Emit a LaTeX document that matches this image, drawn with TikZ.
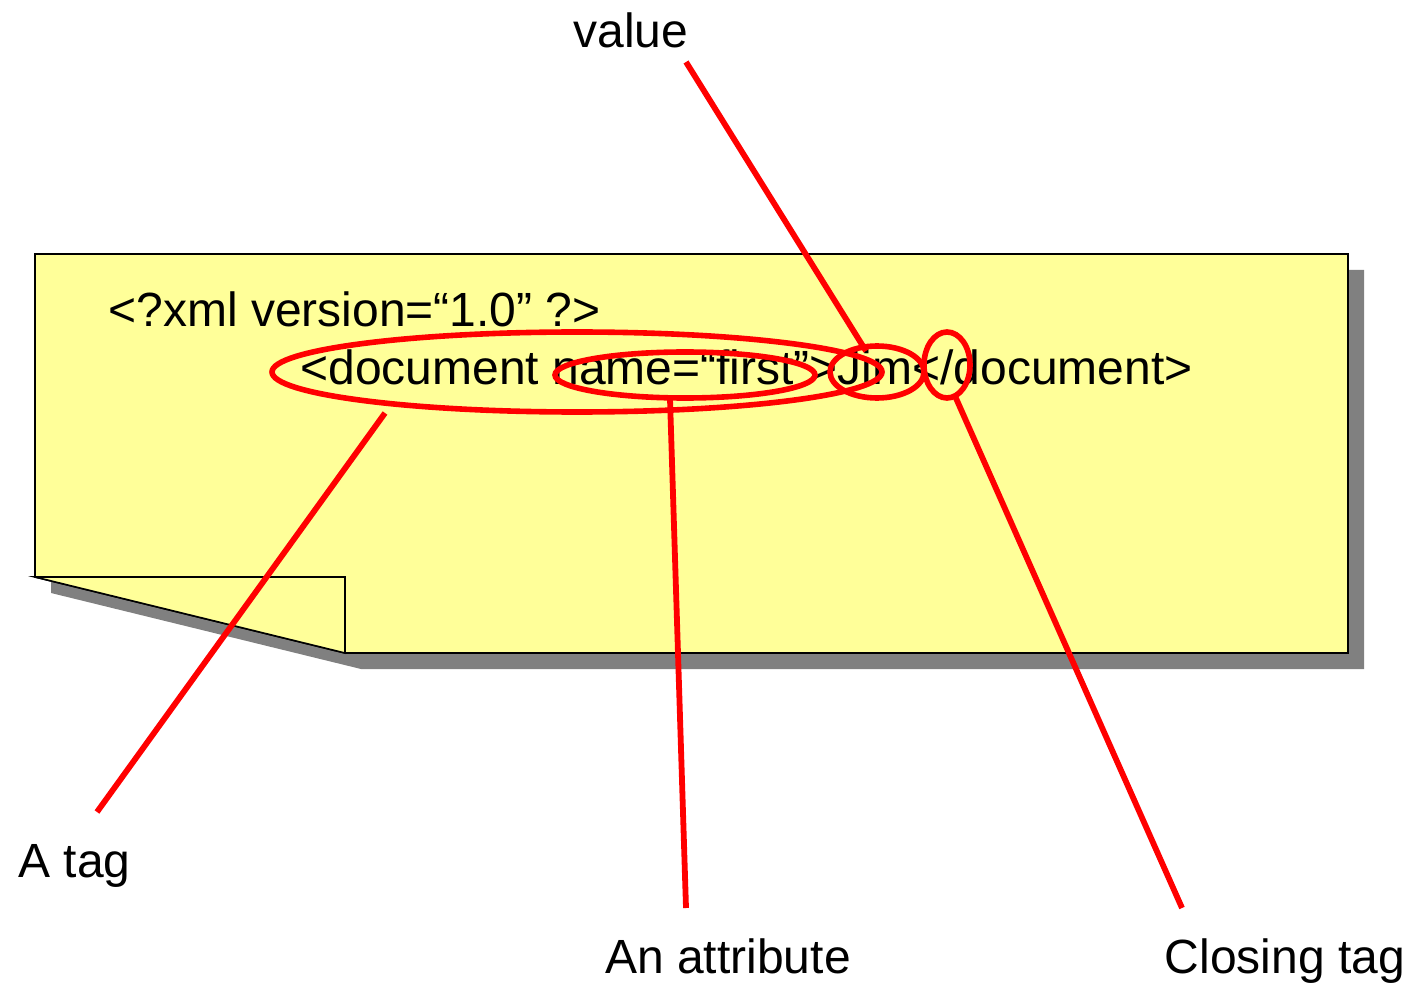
\documentclass[tikz,border=0pt]{standalone}
\usepackage{fontspec}
\setmainfont{Liberation Sans}
\usetikzlibrary{shapes.geometric}
\definecolor{note}{HTML}{FFFF99}
\definecolor{dropgray}{HTML}{808080}
\tikzset{
  code/.style={inner sep=0pt, anchor=base west, font=\fontsize{24}{29}\selectfont},
  callout/.style={inner sep=0pt, font=\fontsize{24}{29}\selectfont},
  ring/.style={ellipse, draw=red, line width=2.8pt, inner sep=0pt},
  pointer/.style={draw=red, line width=2.9pt},
  paper/.style={fill=note, draw=black, line width=0.8pt, line join=miter},
}
\begin{document}
\begin{tikzpicture}[x=0.5pt, y=-0.5pt]
\useasboundingbox (0,0) rectangle (1416,983);

% drop shadow of the note
\fill[dropgray] (51,270) -- (1364,270) -- (1364,669) -- (361,669) -- (51,593) -- cycle;
% the note with its folded corner
\path[paper] (35,254) -- (1348,254) -- (1348,653) -- (345,653) -- (35,577) -- cycle;
\path[paper] (35,577) -- (345,577) -- (345,653) -- cycle;

% XML source
\node[code] (decl) at (108,327) {<?xml version=“1.0” ?>};
\node[code] (elem) at (300,385) {<document name=“first”>Jim</document>};

% highlighted parts
\node[ring, minimum width=305pt, minimum height=40pt] (tagring) at (577,372) {};
\node[ring, minimum width=130pt, minimum height=23pt] (attrring) at (685,375) {};
\node[ring, minimum width=47pt, minimum height=26pt] (valring) at (877,372) {};
\node[ring, minimum width=23pt, minimum height=33pt] (closering) at (947,365) {};

% captions
\node[callout] (value) at (631,30) {value};
\node[callout, anchor=west] (tag) at (18,866) {A tag};
\node[callout, anchor=base] (attr) at (728,973) {An attribute};
\node[callout, anchor=base] (closing) at (1285,973) {Closing tag};

% pointer ends
\coordinate (valueEnd) at (686,62);
\coordinate (valueTip) at (866,351);
\coordinate (tagEnd) at (97,812);
\coordinate (tagTip) at (385,413);
\coordinate (attrEnd) at (686,908);
\coordinate (attrTip) at (670,399);
\coordinate (closeEnd) at (1182,908);
\coordinate (closeTip) at (955,396);

\draw[pointer] (valueEnd) -- (valueTip);
\draw[pointer] (tagEnd) -- (tagTip);
\draw[pointer] (attrEnd) -- (attrTip);
\draw[pointer] (closeEnd) -- (closeTip);
\end{tikzpicture}
\end{document}
